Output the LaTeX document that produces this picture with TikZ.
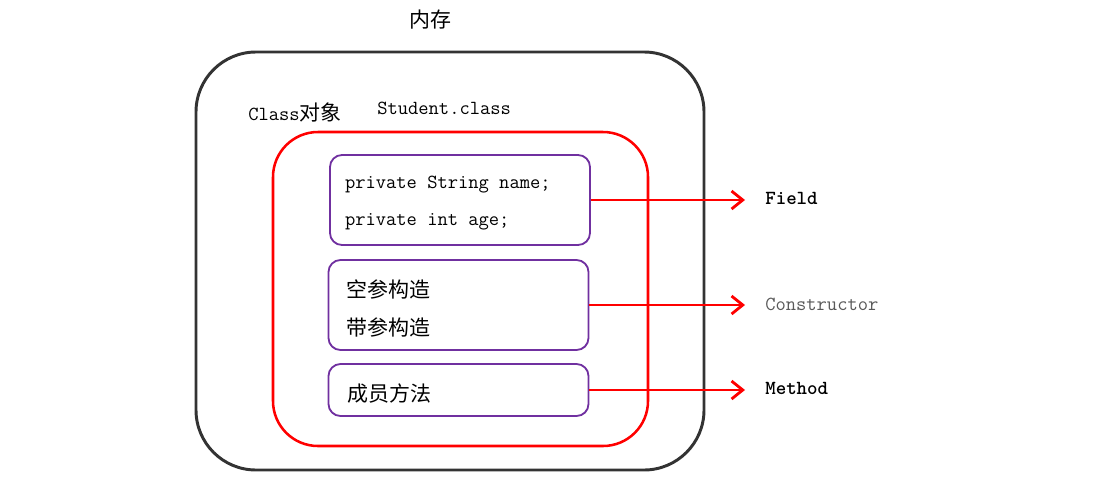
\documentclass[tikz,border=0pt]{standalone}
\usepackage{fontspec}
\newfontfamily\cjk[Scale=1.05]{Noto Sans CJK SC}
\usepackage{tikz}
\usetikzlibrary{positioning,arrows.meta}
\definecolor{memgray}{HTML}{333333}
\definecolor{boxpurple}{HTML}{7030A0}
\definecolor{labgray}{HTML}{595959}
\newcommand{\lift}[1]{\rule{0pt}{#1}}
\tikzset{member/.style = {draw=boxpurple,line width=1.3pt,rounded corners=0.3cm,
    text width=5.75cm,inner xsep=0.375cm,align=flush left,minimum height=2.25cm,
    font=\ttfamily\fontsize{14.2pt}{26.5pt}\selectfont},
  arr/.style = {draw=red,line width=2pt,shorten >=0.5cm,-{Straight Barb[length=2.8mm,width=4.5mm]}},
  lab/.style = {anchor=west,inner xsep=0pt,font=\ttfamily\fontsize{14.2pt}{15pt}\selectfont}}

\begin{document}
\begin{tikzpicture}
                \useasboundingbox (0,0) rectangle (27.375,-12.175);
                \node[lab,anchor=center] (mem) at (10.75,-0.5) {\cjk 内存};
                \draw[memgray,line width=2.1pt,rounded corners=1.5cm] (4.9,-1.3) rectangle (17.6,-11.75);
                \node[lab] (obj) at (6.2,-2.8) {Class{\cjk 对象}};
                \node[lab] (cls) at (9.425,-2.7) {Student.class};
                \draw[red,line width=1.8pt,rounded corners=1.125cm] (6.825,-3.3) rectangle (16.2,-11.15);
                \node[member] (f) at (11.5,-5.0) {\lift{13pt}private String name;\\private int age;};
                \node[member] (c) at (11.4625,-7.625) {\lift{17.5pt}\hspace{2pt}{\cjk 空参构造}\\\hspace*{2pt}{\cjk 带参构造}};
                \node[member,minimum height=1.3cm] (m) at (11.4625,-9.75) {\lift{17.5pt}\hspace{3pt}{\cjk 成员方法}};
                \node[lab,font=\ttfamily\fontsize{14.2pt}{15pt}\bfseries] (fl) at (19.125,-4.95) {Field};
                \node[lab,text=labgray] (cl) at (19.125,-7.6) {Constructor};
                \node[lab,font=\ttfamily\fontsize{14.2pt}{15pt}\bfseries] (ml) at (19.125,-9.7) {Method};
                \draw[arr] (f) -- (f -| fl.west);
                \draw[arr] (c) -- (c -| cl.west);
                \draw[arr] (m) -- (m -| ml.west);
            \end{tikzpicture}
\end{document}
